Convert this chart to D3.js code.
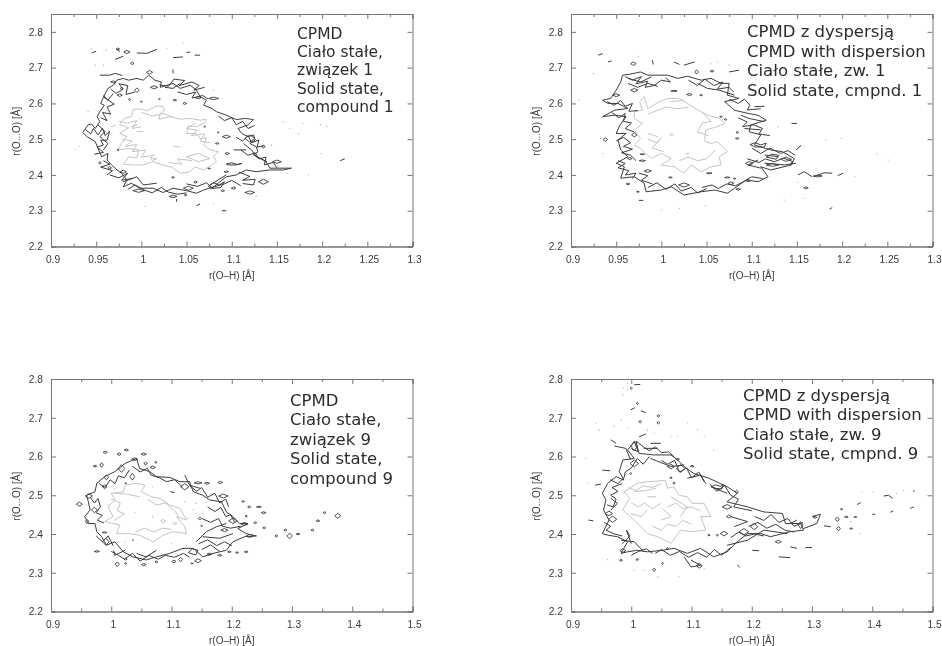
<!DOCTYPE html>
<html><head><meta charset="utf-8">
<script src="https://cdn.jsdelivr.net/npm/d3@7"></script>
<style>html,body{margin:0;background:#fff}svg{display:block}</style></head><body>
<svg id="c" width="942" height="646"></svg>
<script>
// ---------- axis ticks ----------
const xTicksTop=[0.9,0.95,1,1.05,1.1,1.15,1.2,1.25,1.3];
const xMinorTop=[0.925,0.975,1.025,1.075,1.125,1.175,1.225,1.275];
const xTicksBottom=[0.9,1,1.1,1.2,1.3,1.4,1.5];
const xMinorBottom=[0.95,1.05,1.15,1.25,1.35,1.45];
const yTicks=[2.2,2.3,2.4,2.5,2.6,2.7,2.8];
const xLabelText="r(O\u2013H) [\u00c5]";
const yLabelText="r(O...O) [\u00c5]";
// ---------- annotations ----------
const notesA=["CPMD","Ciało stałe,","związek 1","Solid state,","compound 1"];
const notesB=["CPMD z dyspersją","CPMD with dispersion","Ciało stałe, zw. 1","Solid state, cmpnd. 1"];
const notesC=["CPMD","Ciało stałe,","związek 9","Solid state,","compound 9"];
const notesD=["CPMD z dyspersją","CPMD with dispersion","Ciało stałe, zw. 9","Solid state, cmpnd. 9"];

// ---------- panel A: compound 1, CPMD ----------
const ringA=[[.935,2.519],[.941,2.540],[.945,2.542],[.949,2.530],[.954,2.549],[.951,2.563],[.954,2.577],[.959,2.595],[.955,2.600],[.960,2.628],[.963,2.642],[.969,2.651],[.973,2.665],[.980,2.670],[.986,2.665],[.995,2.670],[1.002,2.665],[1.008,2.679],[1.015,2.665],[1.022,2.660],[1.021,2.645],[1.035,2.656],[1.043,2.642],[1.054,2.651],[1.061,2.637],[1.065,2.619],[1.072,2.609],[1.069,2.595],[1.078,2.586],[1.083,2.577],[1.094,2.567],[1.105,2.555],[1.115,2.558],[1.124,2.555],[1.118,2.540],[1.107,2.530],[1.111,2.516],[1.118,2.507],[1.124,2.512],[1.126,2.498],[1.120,2.488],[1.127,2.479],[1.129,2.465],[1.124,2.456],[1.135,2.442],[1.139,2.433],[1.142,2.419],[1.166,2.419],[1.157,2.414],[1.142,2.414],[1.127,2.409],[1.116,2.414],[1.105,2.400],[1.094,2.395],[1.087,2.381],[1.080,2.367],[1.069,2.358],[1.061,2.349],[1.050,2.356],[1.035,2.363],[1.024,2.351],[1.013,2.363],[.998,2.363],[.989,2.377],[.980,2.367],[.984,2.386],[.978,2.405],[.973,2.414],[.967,2.428],[.962,2.442],[.963,2.460],[.956,2.451],[.952,2.474],[.949,2.493],[.940,2.507],[.935,2.519]];
const fragsA=[[[.945,2.741],[.950,2.746]],[[.973,2.753],[.976,2.744]],[[.995,2.741],[1.006,2.740],[1.017,2.751]],[[.971,2.723],[.980,2.732]],[[1.050,2.742],[1.054,2.744]],[[1.059,2.735],[1.065,2.735]],[[1.035,2.728],[1.046,2.730]],[[1.035,2.695],[1.035,2.684]],[[.954,2.679],[.965,2.679],[.971,2.684],[.979,2.678]],[[1.026,2.645],[1.035,2.642],[1.043,2.656]],[[.958,2.619],[.963,2.609],[.969,2.628]],[[1.061,2.314],[1.065,2.319]],[[1.089,2.300],[1.094,2.300]],[[1.039,2.333],[1.039,2.325]],[[1.220,2.440],[1.225,2.445]],[[.952,2.540],[.960,2.521],[.954,2.507],[.963,2.488],[.958,2.470]],[[1.113,2.488],[1.122,2.470],[1.127,2.451],[1.139,2.437]],[[1.102,2.470],[1.116,2.470]],[[1.076,2.372],[1.094,2.400]],[[.980,2.381],[.995,2.395],[1.002,2.372],[1.017,2.377]],
[[.938,2.527],[.944,2.515],[.947,2.530],[.952,2.512],[.957,2.530],[.960,2.510],[.965,2.523],[.962,2.497],[.955,2.497],[.958,2.484],[.951,2.478],[.958,2.463],[.948,2.458]],[[.955,2.560],[.962,2.552],[.957,2.575],[.966,2.570],[.962,2.590],[.970,2.598],[.963,2.610],[.958,2.622]],[[.966,2.640],[.972,2.628],[.980,2.640],[.975,2.655],[.985,2.650],[.983,2.625],[.993,2.632]],[[1.020,2.652],[1.030,2.648],[1.036,2.668],[1.048,2.664],[1.042,2.650],[1.056,2.660],[1.064,2.650],[1.058,2.637],[1.070,2.645]],[[1.040,2.632],[1.050,2.625],[1.060,2.632],[1.056,2.615],[1.068,2.622],[1.074,2.612]],[[1.085,2.565],[1.092,2.552],[1.100,2.560],[1.105,2.540],[1.112,2.550],[1.118,2.530],[1.125,2.538]],[[1.105,2.505],[1.112,2.495],[1.118,2.510],[1.122,2.490],[1.130,2.498],[1.128,2.478],[1.136,2.482]],[[1.110,2.470],[1.118,2.455],[1.126,2.462],[1.130,2.445],[1.138,2.450],[1.136,2.428],[1.146,2.435],[1.150,2.420]],[[1.108,2.408],[1.120,2.396],[1.112,2.385],[1.126,2.388],[1.124,2.372],[1.112,2.376]],[[1.050,2.375],[1.062,2.368],[1.072,2.378],[1.078,2.365],[1.092,2.375],[1.100,2.385],[1.110,2.370]],[[.985,2.360],[.993,2.372],[1.003,2.358],[1.012,2.350],[1.022,2.365],[1.030,2.352],[1.040,2.346],[1.050,2.350]],[[.965,2.400],[.975,2.392],[.985,2.405],[.978,2.385],[.990,2.390]],[[.958,2.440],[.965,2.430],[.955,2.422],[.968,2.412],[.962,2.400]],
[[1.094,2.431],[1.100,2.434],[1.106,2.429],[1.111,2.432],[1.104,2.428],[1.096,2.428],[1.094,2.431]],[[1.074,2.368],[1.080,2.378],[1.086,2.372],[1.092,2.381],[1.088,2.365],[1.078,2.362],[1.074,2.368]]];
const islandsA=[[.984,2.744,.007,.009],[.974,2.752,.004,.006],[.990,2.712,.004,.007],[1.009,2.687,.007,.011],[.995,2.637,.005,.013],[1.014,2.645,.008,.009],[.969,2.660,.006,.006],[.978,2.642,.003,.005],[.976,2.623,.006,.007],[.987,2.611,.003,.006],[1.080,2.614,.011,.007],[1.037,2.609,.004,.005],[1.048,2.600,.004,.006],[1.063,2.616,.006,.006],[1.094,2.507,.009,.009],[1.120,2.502,.011,.020],[1.135,2.479,.004,.007],[1.150,2.437,.010,.009],[1.094,2.409,.005,.005],[1.135,2.381,.011,.014],[1.120,2.351,.011,.009],[1.060,2.380,.004,.006],[1.052,2.363,.011,.011],[.997,2.356,.013,.009],[1.035,2.340,.009,.007],[1.049,2.344,.003,.004],[1.090,2.356,.004,.005],[1.102,2.363,.005,.006],[1.035,2.393,.003,.005],[.980,2.409,.007,.009],[.965,2.420,.004,.007],[.954,2.434,.003,.006],[.974,2.470,.002,.003],[1.095,2.460,.005,.006],[1.000,2.605,.002,.003],[1.020,2.612,.002,.003],[1.070,2.535,.002,.003],[1.085,2.519,.002,.003],[1.084,2.488,.004,.004],[1.075,2.418,.003,.003]];
const innerA=[[[.974,2.470],[.978,2.488],[.984,2.507],[.976,2.516],[.986,2.532],[.976,2.541],[.981,2.558],[.989,2.563],[.991,2.584],[1.000,2.584],[1.006,2.579],[1.017,2.593],[1.024,2.591],[1.026,2.581],[1.021,2.572],[1.019,2.556],[1.032,2.563],[1.043,2.556],[1.054,2.558],[1.065,2.553],[1.072,2.556],[1.069,2.544],[1.061,2.535],[1.052,2.537],[1.050,2.516],[1.061,2.516],[1.065,2.502],[1.072,2.504],[1.069,2.484],[1.076,2.470],[1.085,2.465],[1.080,2.453],[1.083,2.437],[1.078,2.428],[1.069,2.414],[1.059,2.423],[1.054,2.409],[1.043,2.405],[1.034,2.421],[1.024,2.428],[1.013,2.437],[1.002,2.428],[.991,2.428],[.980,2.430],[.986,2.451],[.995,2.447],[.997,2.470],[.986,2.474],[.974,2.470]],[[.966,2.535],[.972,2.540]],[[.989,2.535],[.996,2.540]],[[.995,2.521],[1.002,2.521]],[[1.035,2.479],[1.043,2.479]],[[1.050,2.451],[1.063,2.460],[1.076,2.446],[1.063,2.437],[1.050,2.451]],[[1.010,2.449],[1.017,2.445],[1.012,2.441],[1.010,2.449]],
[[.975,2.550],[.985,2.545],[.995,2.552],[.990,2.530],[1.000,2.535]],[[.978,2.500],[.990,2.495],[.982,2.480],[.995,2.485],[.990,2.465],[1.005,2.470],[1.000,2.450],[1.015,2.455]],[[1.030,2.435],[1.045,2.430],[1.040,2.445],[1.056,2.440]],[[1.060,2.545],[1.050,2.530],[1.062,2.525],[1.055,2.510],[1.070,2.515],[1.065,2.495],[1.076,2.490]],[[1.000,2.575],[1.012,2.565],[1.025,2.572],[1.035,2.560]]];
const dotsA=[[.927,2.472],[.931,2.481],[1.004,2.312],[.945,2.753],[.961,2.749],[1.046,2.769],[1.028,2.753],[.989,2.682],[.958,2.707],[.949,2.707],[.941,2.577],[1.080,2.637],[1.157,2.549],[1.164,2.530],[1.179,2.544],[1.198,2.540],[1.205,2.535],[1.174,2.516],[1.199,2.460],[1.185,2.400],[1.161,2.405],[1.144,2.484],[1.127,2.340],[1.080,2.321],[1.102,2.567],[.998,2.558]];

// ---------- panel B: compound 1, with dispersion ----------
const ringB=[[.935,2.609],[.944,2.614],[.950,2.637],[.955,2.660],[.957,2.679],[.966,2.682],[.977,2.688],[.985,2.679],[.996,2.679],[1.007,2.679],[1.018,2.670],[1.029,2.676],[1.044,2.665],[1.055,2.670],[1.066,2.656],[1.075,2.656],[1.073,2.623],[1.086,2.614],[1.070,2.605],[1.081,2.581],[1.096,2.572],[1.107,2.567],[1.116,2.553],[1.099,2.540],[1.097,2.521],[1.110,2.512],[1.103,2.484],[1.121,2.470],[1.134,2.465],[1.147,2.446],[1.144,2.428],[1.121,2.414],[1.110,2.423],[1.118,2.395],[1.107,2.381],[1.094,2.386],[1.081,2.363],[1.073,2.349],[1.059,2.358],[1.044,2.353],[1.025,2.344],[1.011,2.367],[1.000,2.358],[.983,2.353],[.981,2.377],[.970,2.395],[.955,2.391],[.959,2.423],[.950,2.433],[.963,2.451],[.955,2.470],[.952,2.498],[.961,2.516],[.950,2.516],[.954,2.539],[.961,2.563],[.948,2.567],[.935,2.563],[.948,2.581],[.963,2.586],[.952,2.600],[.941,2.600],[.935,2.609]];
const fragsB=[[[.930,2.735],[.935,2.739]],[[.941,2.716],[.945,2.719]],[[.990,2.721],[.991,2.709]],[[1.025,2.707],[1.037,2.716]],[[1.014,2.716],[1.020,2.709]],[[1.075,2.688],[1.086,2.693]],[[.963,2.670],[.977,2.660],[.989,2.674]],[[.963,2.656],[.974,2.645],[.985,2.656],[.996,2.648]],[[1.040,2.656],[1.051,2.642],[1.064,2.637],[1.081,2.623]],[[1.103,2.591],[1.114,2.592]],[[1.088,2.567],[1.097,2.558],[1.114,2.549]],[[1.144,2.544],[1.150,2.544]],[[1.149,2.470],[1.155,2.483]],[[1.151,2.400],[1.158,2.409],[1.167,2.395]],[[1.169,2.395],[1.180,2.406],[1.189,2.405]],[[1.195,2.398],[1.201,2.405]],[[1.186,2.304],[1.189,2.309]],[[.975,2.329],[.980,2.329]],[[1.107,2.442],[1.096,2.428],[1.110,2.419]],[[1.114,2.433],[1.136,2.428],[1.149,2.433]],[[1.114,2.456],[1.129,2.451]],[[1.092,2.530],[1.110,2.526]],
[[.940,2.605],[.948,2.595],[.955,2.608],[.960,2.592],[.968,2.600],[.964,2.578],[.974,2.580]],[[.945,2.575],[.953,2.560],[.960,2.572],[.958,2.550],[.967,2.545],[.960,2.530],[.970,2.520]],[[.950,2.495],[.958,2.505],[.966,2.490],[.958,2.480],[.968,2.472],[.956,2.462],[.966,2.455],[.972,2.440]],[[.952,2.440],[.960,2.432],[.952,2.420],[.964,2.412],[.960,2.400],[.972,2.405],[.968,2.390]],[[.960,2.675],[.968,2.665],[.978,2.675],[.972,2.655],[.985,2.662],[.982,2.645],[.992,2.650],[1.000,2.665],[1.010,2.660],[1.005,2.672]],[[1.030,2.665],[1.040,2.650],[1.048,2.668],[1.058,2.650],[1.068,2.660],[1.062,2.640],[1.075,2.645],[1.080,2.632]],[[1.075,2.612],[1.085,2.600],[1.092,2.612],[1.098,2.595],[1.095,2.582],[1.110,2.585]],[[1.085,2.560],[1.095,2.548],[1.090,2.535],[1.102,2.540],[1.112,2.530],[1.108,2.515],[1.120,2.510]],[[1.100,2.475],[1.110,2.460],[1.120,2.475],[1.132,2.460],[1.140,2.468],[1.148,2.455]],[[1.095,2.445],[1.108,2.435],[1.115,2.445],[1.125,2.437],[1.135,2.447],[1.145,2.438],[1.142,2.425]],[[1.045,2.365],[1.056,2.372],[1.063,2.362],[1.072,2.375],[1.082,2.370],[1.090,2.380],[1.100,2.395],[1.112,2.390]],[[.985,2.365],[.995,2.378],[1.005,2.360],[1.015,2.375],[1.022,2.355],[1.033,2.365],[1.040,2.350],[1.050,2.362]],[[.975,2.405],[.985,2.398],[.978,2.385],[.990,2.375]],
[[1.098,2.485],[1.104,2.490],[1.110,2.484],[1.116,2.489],[1.114,2.478],[1.104,2.478],[1.098,2.485]],[[1.116,2.450],[1.122,2.458],[1.130,2.455],[1.127,2.444],[1.116,2.450]]];
const islandsB=[[.938,2.499,.005,.011],[.969,2.711,.006,.010],[1.039,2.688,.004,.012],[1.056,2.690,.004,.005],[.970,2.637,.008,.010],[.950,2.623,.008,.008],[1.014,2.635,.007,.004],[1.031,2.625,.006,.006],[1.044,2.623,.003,.004],[1.071,2.555,.003,.004],[1.066,2.563,.003,.003],[1.084,2.519,.003,.005],[1.084,2.502,.004,.004],[1.138,2.444,.012,.012],[1.123,2.428,.014,.008],[1.097,2.432,.008,.012],[1.160,2.364,.005,.006],[1.173,2.397,.010,.005],[.985,2.411,.008,.008],[.979,2.440,.007,.004],[.979,2.458,.005,.003],[.970,2.512,.006,.012],[.965,2.446,.005,.006],[.963,2.375,.004,.005],[1.010,2.393,.004,.004],[1.053,2.405,.006,.003],[1.073,2.393,.006,.003],[1.081,2.390,.003,.003],[1.085,2.360,.005,.005],[1.077,2.377,.006,.008],[1.096,2.384,.006,.006],[1.025,2.372,.012,.012],[.974,2.353,.003,.003]];
const innerB=[[[.970,2.577],[.979,2.581],[.976,2.605],[.981,2.619],[.985,2.586],[.998,2.605],[1.007,2.614],[1.020,2.614],[1.029,2.600],[1.037,2.586],[1.051,2.567],[1.064,2.558],[1.070,2.544],[1.061,2.535],[1.049,2.525],[1.048,2.493],[1.055,2.488],[1.062,2.493],[1.073,2.465],[1.064,2.451],[1.066,2.428],[1.055,2.423],[1.044,2.409],[1.033,2.428],[1.025,2.405],[1.014,2.423],[1.000,2.428],[1.011,2.446],[1.000,2.460],[.989,2.446],[.977,2.474],[.970,2.484],[.977,2.502],[.970,2.525],[.979,2.544],[.970,2.558],[.970,2.577]],[[.985,2.516],[.996,2.507]],[[1.011,2.605],[1.025,2.609]],[[1.009,2.513],[1.011,2.516],[1.013,2.513],[1.011,2.510],[1.009,2.513]],[[1.027,2.460],[1.031,2.460]],
[[.985,2.570],[.995,2.580],[1.005,2.590],[1.018,2.585],[1.030,2.590]],[[.985,2.500],[.995,2.490],[1.000,2.505],[.990,2.475],[1.002,2.465]],[[1.045,2.575],[1.055,2.550],[1.045,2.545],[1.040,2.520],[1.052,2.510]],[[1.020,2.440],[1.030,2.450],[1.040,2.440],[1.050,2.445],[1.060,2.470]]];
const dotsB=[[.925,2.684],[.975,2.732],[1.055,2.711],[1.062,2.716],[1.075,2.707],[.909,2.609],[.933,2.502],[.935,2.460],[1.020,2.307],[1.000,2.302],[1.049,2.313],[1.136,2.330],[1.158,2.335],[1.251,2.442],[1.239,2.459],[1.199,2.502],[1.158,2.479],[1.129,2.535],[1.182,2.498],[1.151,2.379],[1.214,2.395]];

// ---------- panel C: compound 9, CPMD ----------
const ringC=[[.959,2.500],[.973,2.509],[.976,2.531],[.989,2.548],[1.006,2.561],[1.023,2.582],[1.042,2.595],[1.047,2.569],[1.064,2.561],[1.075,2.548],[1.097,2.546],[1.114,2.535],[1.130,2.535],[1.136,2.509],[1.152,2.500],[1.163,2.488],[1.183,2.483],[1.191,2.457],[1.202,2.445],[1.213,2.427],[1.227,2.427],[1.210,2.414],[1.224,2.401],[1.241,2.395],[1.221,2.393],[1.202,2.380],[1.191,2.358],[1.169,2.350],[1.152,2.341],[1.136,2.363],[1.119,2.363],[1.097,2.350],[1.075,2.341],[1.058,2.333],[1.036,2.341],[1.020,2.354],[1.006,2.380],[.992,2.371],[.984,2.393],[.976,2.406],[.973,2.427],[.962,2.427],[.956,2.445],[.965,2.462],[.962,2.483],[.959,2.500]];
const fragsC=[[[1.141,2.380],[1.158,2.406],[1.175,2.419],[1.191,2.427]],[[1.152,2.393],[1.180,2.389],[1.202,2.401]],[[1.098,2.509],[1.105,2.507]],[[1.004,2.358],[1.006,2.345],[1.023,2.358]],[[1.042,2.350],[1.058,2.341],[1.075,2.358]],[[1.122,2.552],[1.130,2.526],[1.147,2.518]],
[[.965,2.495],[.972,2.480],[.978,2.492],[.982,2.470],[.975,2.455],[.985,2.448],[.977,2.436],[.988,2.428]],[[.980,2.530],[.990,2.520],[.998,2.540],[1.006,2.530],[1.012,2.550],[1.022,2.545],[1.030,2.565]],[[1.035,2.575],[1.048,2.560],[1.060,2.570],[1.066,2.552],[1.080,2.545],[1.092,2.535],[1.105,2.540],[1.118,2.522]],[[1.130,2.525],[1.142,2.510],[1.150,2.520],[1.160,2.495],[1.172,2.505],[1.180,2.480],[1.190,2.490],[1.195,2.470]],[[1.160,2.470],[1.172,2.458],[1.182,2.468],[1.190,2.445],[1.198,2.450],[1.205,2.430]],[[1.150,2.440],[1.165,2.430],[1.178,2.440],[1.185,2.420],[1.198,2.415],[1.215,2.420]],[[1.145,2.375],[1.160,2.385],[1.175,2.370],[1.188,2.380],[1.200,2.370]],[[1.150,2.360],[1.165,2.372],[1.180,2.355]],[[1.000,2.355],[1.012,2.345],[1.022,2.335],[1.035,2.350],[1.048,2.330],[1.062,2.345],[1.078,2.335],[1.090,2.345],[1.105,2.340],[1.120,2.350],[1.130,2.340]],[[.975,2.395],[.985,2.380],[.995,2.395],[1.003,2.370]],
[[1.128,2.352],[1.134,2.362],[1.144,2.358],[1.140,2.346],[1.128,2.352]]];
const islandsC=[[.947,2.477,.010,.011],[.973,2.575,.006,.005],[.984,2.578,.006,.012],[.990,2.611,.007,.006],[1.013,2.606,.007,.007],[1.025,2.617,.007,.005],[1.054,2.606,.009,.006],[1.039,2.593,.010,.007],[1.057,2.582,.006,.006],[1.074,2.585,.004,.005],[1.069,2.572,.009,.007],[1.035,2.548,.008,.018],[1.017,2.569,.011,.020],[.992,2.546,.008,.012],[.989,2.522,.008,.010],[1.144,2.532,.013,.006],[1.159,2.531,.008,.005],[1.181,2.533,.008,.006],[1.122,2.522,.014,.016],[1.186,2.498,.016,.010],[1.219,2.484,.005,.004],[1.229,2.470,.005,.005],[1.245,2.470,.008,.004],[1.253,2.455,.008,.005],[1.224,2.446,.004,.005],[1.239,2.429,.005,.005],[1.254,2.416,.005,.005],[1.274,2.395,.005,.005],[1.289,2.410,.005,.005],[1.296,2.395,.009,.015],[1.310,2.400,.006,.004],[1.334,2.410,.005,.005],[1.343,2.434,.006,.005],[1.354,2.455,.005,.005],[1.376,2.447,.010,.013],[.976,2.355,.009,.004],[.991,2.380,.011,.018],[1.010,2.322,.007,.012],[1.024,2.335,.005,.005],[1.024,2.324,.004,.004],[1.054,2.321,.008,.006],[1.075,2.328,.005,.005],[1.104,2.329,.007,.007],[1.115,2.334,.007,.012],[1.134,2.324,.004,.003],[1.144,2.331,.011,.010],[1.180,2.345,.007,.005],[1.196,2.354,.006,.004],[1.209,2.352,.005,.004],[1.224,2.354,.006,.004],[1.163,2.348,.008,.006],[1.221,2.426,.012,.008],[1.202,2.434,.014,.014],[1.188,2.410,.012,.008],[1.230,2.395,.012,.008],[1.147,2.440,.005,.008],[.989,2.404,.008,.003],[.960,2.432,.007,.010],[.963,2.498,.012,.012],[.972,2.462,.010,.014],[1.024,2.531,.003,.003],[1.036,2.384,.002,.003],[1.150,2.421,.003,.003]];
const innerC=[[[.989,2.432],[1.003,2.445],[.995,2.470],[1.006,2.488],[1.000,2.505],[1.020,2.509],[1.023,2.526],[1.042,2.531],[1.056,2.526],[1.050,2.509],[1.067,2.496],[1.081,2.492],[1.097,2.475],[1.114,2.466],[1.125,2.436],[1.108,2.445],[1.122,2.419],[1.125,2.401],[1.103,2.406],[1.086,2.397],[1.069,2.380],[1.047,2.397],[1.028,2.401],[1.009,2.401],[1.014,2.423],[.989,2.432]],[[1.006,2.505],[1.025,2.503],[1.047,2.496]],[[1.082,2.433],[1.086,2.438],[1.090,2.433],[1.086,2.428],[1.082,2.433]],[[1.102,2.427],[1.105,2.430],[1.109,2.427],[1.105,2.424],[1.102,2.427]],[[1.069,2.448],[1.069,2.442]],
[[1.000,2.490],[1.015,2.480],[1.010,2.460],[1.022,2.452],[1.005,2.435]],[[1.060,2.490],[1.075,2.475],[1.090,2.480],[1.105,2.460],[1.112,2.445]],[[1.040,2.405],[1.055,2.415],[1.070,2.405],[1.085,2.415],[1.100,2.412]]];
const dotsC=[[1.006,2.531],[1.006,2.518],[.995,2.475],[1.069,2.522],[1.141,2.479],[1.136,2.462],[1.127,2.440],[1.158,2.436],[1.125,2.371],[1.100,2.376],[1.039,2.455],[1.023,2.380],[1.122,2.483],[1.152,2.453]];

// ---------- panel D: compound 9, with dispersion ----------
const ringD=[[.952,2.401],[.963,2.436],[.954,2.462],[.958,2.488],[.952,2.505],[.961,2.531],[.975,2.548],[.988,2.539],[.980,2.561],[.986,2.591],[1.005,2.595],[.994,2.617],[1.005,2.638],[1.013,2.608],[1.038,2.604],[1.066,2.604],[1.077,2.591],[1.088,2.574],[1.104,2.556],[1.129,2.544],[1.159,2.522],[1.176,2.505],[1.159,2.483],[1.193,2.470],[1.220,2.457],[1.251,2.453],[1.256,2.427],[1.281,2.427],[1.286,2.410],[1.264,2.406],[1.231,2.393],[1.215,2.401],[1.193,2.401],[1.176,2.380],[1.159,2.354],[1.137,2.341],[1.115,2.363],[1.093,2.350],[1.071,2.363],[1.052,2.358],[1.027,2.354],[1.010,2.358],[.994,2.354],[.983,2.350],[.994,2.380],[.977,2.393],[.961,2.397],[.952,2.401]];
const fragsD=[[[1.088,2.341],[1.099,2.315],[1.115,2.319],[1.099,2.333]],[[1.176,2.320],[1.180,2.314]],[[.940,2.526],[.950,2.529]],[[.929,2.436],[.937,2.434]],[[.952,2.565],[.965,2.563]],[[1.005,2.785],[1.015,2.786]],[[.999,2.720],[1.006,2.726]],[[1.016,2.718],[1.024,2.713]],[[1.013,2.651],[1.024,2.658]],[[.966,2.643],[.975,2.634]],[[.972,2.627],[.991,2.621],[.999,2.591]],[[1.032,2.634],[1.049,2.634]],[[1.021,2.621],[1.044,2.621]],[[1.201,2.358],[1.212,2.357]],[[1.245,2.341],[1.264,2.339]],[[1.289,2.365],[1.300,2.365]],[[1.264,2.367],[1.275,2.363]],[[1.375,2.476],[1.381,2.481]],[[1.419,2.498],[1.427,2.500],[1.434,2.492]],[[1.430,2.456],[1.435,2.460]],[[1.463,2.466],[1.469,2.470]],[[1.400,2.451],[1.405,2.451]],[[1.469,2.513],[1.469,2.509]],[[1.300,2.445],[1.314,2.451],[1.308,2.427],[1.286,2.414]],[[1.320,2.421],[1.331,2.419]],[[1.264,2.427],[1.275,2.436]],[[1.132,2.522],[1.159,2.505]],[[1.093,2.544],[1.115,2.552],[1.121,2.535]],[[1.032,2.595],[1.066,2.574],[1.088,2.578]],[[.966,2.492],[.977,2.479],[.966,2.462]],[[.983,2.384],[1.005,2.380],[1.021,2.354]],[[1.159,2.371],[1.193,2.384],[1.220,2.410],[1.259,2.401]],[[1.165,2.445],[1.193,2.432],[1.171,2.419]],
[[.955,2.430],[.966,2.420],[.958,2.410],[.972,2.400],[.985,2.395]],[[.960,2.475],[.970,2.470],[.975,2.490],[.966,2.500],[.978,2.510],[.968,2.520],[.985,2.530]],[[.965,2.540],[.978,2.530],[.988,2.545],[.990,2.560],[1.000,2.570],[1.010,2.595],[1.020,2.580],[1.030,2.600]],[[1.000,2.620],[1.012,2.612],[1.008,2.640],[1.020,2.625],[1.030,2.615],[1.040,2.625],[1.050,2.610],[1.062,2.612],[1.072,2.598]],[[1.050,2.590],[1.060,2.580],[1.072,2.590],[1.080,2.560],[1.092,2.570],[1.100,2.545],[1.112,2.560],[1.124,2.530]],[[1.130,2.530],[1.142,2.510],[1.155,2.525],[1.165,2.500],[1.178,2.490],[1.170,2.470],[1.185,2.465],[1.200,2.460]],[[1.205,2.445],[1.220,2.435],[1.232,2.450],[1.245,2.430],[1.260,2.440],[1.270,2.420],[1.285,2.430]],[[1.195,2.420],[1.210,2.430],[1.225,2.415],[1.240,2.425],[1.255,2.410],[1.270,2.405]],[[1.165,2.390],[1.178,2.405],[1.190,2.395],[1.205,2.400],[1.220,2.395]],[[1.165,2.365],[1.150,2.345],[1.138,2.360],[1.125,2.340],[1.110,2.352],[1.095,2.340],[1.080,2.355],[1.065,2.345],[1.050,2.360],[1.040,2.350]],[[1.000,2.345],[1.012,2.355],[1.025,2.362],[1.035,2.350]],[[.985,2.375],[.998,2.395],[.992,2.410],[1.000,2.375]],
[[1.133,2.522],[1.140,2.527],[1.148,2.523],[1.153,2.528],[1.150,2.516],[1.140,2.518],[1.133,2.522]]];
const islandsD=[[1.000,2.776,.004,.006],[1.010,2.737,.004,.005],[1.045,2.705,.005,.006],[1.015,2.690,.005,.006],[1.045,2.687,.005,.006],[1.005,2.627,.011,.025],[.969,2.438,.014,.016],[.963,2.453,.012,.012],[1.005,2.582,.014,.018],[1.066,2.574,.012,.012],[1.082,2.569,.014,.020],[1.077,2.593,.006,.005],[1.101,2.575,.006,.004],[1.066,2.545,.004,.004],[1.071,2.531,.004,.006],[.999,2.556,.004,.005],[1.175,2.509,.006,.008],[1.159,2.470,.016,.012],[1.162,2.445,.008,.008],[1.154,2.401,.012,.012],[1.187,2.406,.016,.016],[1.204,2.419,.012,.016],[1.244,2.380,.010,.008],[1.281,2.423,.008,.018],[1.305,2.443,.006,.005],[1.342,2.438,.007,.012],[1.357,2.444,.006,.004],[1.349,2.464,.004,.004],[1.344,2.414,.006,.012],[1.365,2.414,.005,.004],[1.372,2.444,.005,.003],[1.038,2.308,.006,.008],[.983,2.332,.005,.005],[1.010,2.334,.005,.004],[1.052,2.324,.003,.006],[1.113,2.318,.010,.012],[1.060,2.363,.004,.004],[.986,2.357,.010,.010],[1.129,2.397,.004,.004],[1.143,2.397,.003,.006]];
const innerD=[[[.988,2.509],[1.010,2.531],[1.027,2.535],[1.057,2.538],[1.060,2.518],[1.071,2.522],[1.079,2.500],[1.093,2.496],[1.101,2.479],[1.121,2.479],[1.132,2.445],[1.115,2.445],[1.124,2.410],[1.099,2.406],[1.082,2.410],[1.066,2.376],[1.044,2.393],[1.027,2.401],[1.013,2.423],[1.005,2.436],[.986,2.462],[.997,2.492],[.988,2.509]],[[1.005,2.509],[1.027,2.513],[1.041,2.518]],[[.999,2.453],[1.016,2.445],[1.027,2.462]],[[1.052,2.466],[1.066,2.445],[1.049,2.436]],[[1.027,2.496],[1.041,2.496]],[[1.066,2.496],[1.093,2.470],[1.082,2.445]],
[[.995,2.520],[1.008,2.512],[1.020,2.525],[1.035,2.520],[1.050,2.530]],[[1.000,2.480],[1.012,2.470],[1.022,2.480],[1.035,2.465],[1.050,2.480]],[[1.060,2.470],[1.075,2.480],[1.085,2.465],[1.100,2.470],[1.115,2.460]],[[1.035,2.420],[1.050,2.410],[1.060,2.425],[1.075,2.420],[1.085,2.435],[1.100,2.425]]];
const dotsD=[[.986,2.759],[.987,2.776],[.994,2.772],[.994,2.789],[.941,2.686],[.947,2.668],[.971,2.679],[.983,2.694],[.994,2.673],[1.027,2.668],[1.038,2.660],[1.066,2.651],[1.077,2.651],[1.093,2.687],[1.110,2.668],[1.121,2.651],[1.137,2.617],[.925,2.595],[.929,2.531],[1.021,2.307],[1.044,2.290],[1.079,2.290],[1.005,2.307],[1.121,2.311],[.961,2.334],[1.383,2.509],[1.402,2.509],[1.441,2.505],[1.452,2.513],[1.380,2.401],[1.364,2.432]];

const svg=d3.select("#c");
const axisCol="#777",textCol="#3a3a3a",darkCol="#3c3c3c",greyCol="#c4c4c4";
const defs=svg.append("defs");
defs.append("filter").attr("id","soft").append("feGaussianBlur").attr("stdDeviation",0.3);

const panels=[
 {l:51,t:14,xMax:1.3,yMax:2.85,xT:xTicksTop,xM:xMinorTop,ring:ringA,frags:fragsA,isl:islandsA,inner:innerA,dots:dotsA,notes:notesA,nx:297,ny:33,nd:18.4,nf:15.5},
 {l:571,t:14,xMax:1.3,yMax:2.85,xT:xTicksTop,xM:xMinorTop,ring:ringB,frags:fragsB,isl:islandsB,inner:innerB,dots:dotsB,notes:notesB,nx:747,ny:31,nd:19.6,nf:16.5},
 {l:51,t:379,xMax:1.5,yMax:2.8,xT:xTicksBottom,xM:xMinorBottom,ring:ringC,frags:fragsC,isl:islandsC,inner:innerC,dots:dotsC,notes:notesC,nx:290,ny:400,nd:19.5,nf:16.5},
 {l:571,t:379,xMax:1.5,yMax:2.8,xT:xTicksBottom,xM:xMinorBottom,ring:ringD,frags:fragsD,isl:islandsD,inner:innerD,dots:dotsD,notes:notesD,nx:743,ny:395,nd:19.5,nf:16.5}
];
const W=361.5,H=232.5;
const fmt=d=>String(+d.toFixed(2));
panels.forEach(p=>{
 const g=svg.append("g").attr("transform",`translate(${p.l},${p.t})`).attr("filter","url(#soft)");
 const x=d3.scaleLinear().domain([0.9,p.xMax]).range([0,W]);
 const y=d3.scaleLinear().domain([2.2,p.yMax]).range([H,0]);
 const line=d3.line().x(d=>x(d[0])).y(d=>y(d[1]));
 const diamond=d=>line([[d[0]-d[2]/2,d[1]],[d[0],d[1]+d[3]/2],[d[0]+d[2]/2,d[1]],[d[0],d[1]-d[3]/2],[d[0]-d[2]/2,d[1]]]);
 g.append("g").selectAll("path").data(p.inner).join("path").attr("d",line).attr("fill","none").attr("stroke",greyCol).attr("stroke-width",1);
 g.append("g").selectAll("circle").data(p.dots).join("circle").attr("cx",d=>x(d[0])).attr("cy",d=>y(d[1])).attr("r",0.55).attr("fill","#9a9a9a");
 g.append("path").attr("d",line(p.ring)).attr("fill","none").attr("stroke",darkCol).attr("stroke-width",1);
 g.append("g").selectAll("path").data(p.frags).join("path").attr("d",line).attr("fill","none").attr("stroke",darkCol).attr("stroke-width",1);
 g.append("g").selectAll("path").data(p.isl).join("path").attr("d",diamond).attr("fill","none").attr("stroke",darkCol).attr("stroke-width",0.9);
 const tickAll=(axis,sel)=>sel.call(axis).call(s=>s.select(".domain").attr("stroke",axisCol).attr("stroke-width",1)).call(s=>s.selectAll("line").attr("stroke",axisCol));
 const lab=s=>s.selectAll("text").attr("fill",textCol).attr("font-family","'Liberation Sans',Arial,sans-serif").attr("font-size",10.2);
 const ax=tickAll(d3.axisBottom(x).tickValues(p.xT).tickSize(-5).tickPadding(9).tickFormat(fmt),g.append("g").attr("transform",`translate(0,${H})`));
 ax.call(lab); ax.selectAll("text").attr("dx",1.5);
 tickAll(d3.axisBottom(x).tickValues(p.xM).tickSize(-3).tickFormat(""),g.append("g").attr("transform",`translate(0,${H})`));
 tickAll(d3.axisTop(x).tickValues(p.xT).tickSize(-5).tickFormat(""),g.append("g"));
 tickAll(d3.axisTop(x).tickValues(p.xM).tickSize(-3).tickFormat(""),g.append("g"));
 const ay=tickAll(d3.axisLeft(y).tickValues(yTicks).tickSize(-5).tickPadding(8).tickFormat(d3.format(".1f")),g.append("g"));
 ay.call(lab);
 tickAll(d3.axisRight(y).tickValues(yTicks).tickSize(-5).tickFormat(""),g.append("g").attr("transform",`translate(${W},0)`));
 g.append("text").attr("x",W/2).attr("y",H+32.5).attr("text-anchor","middle").attr("fill",textCol).attr("font-family","'Liberation Sans',Arial,sans-serif").attr("font-size",10).text(xLabelText);
 g.append("text").attr("transform",`translate(-31.5,${H/2+1}) rotate(-90)`).attr("text-anchor","middle").attr("fill",textCol).attr("font-family","'Liberation Sans',Arial,sans-serif").attr("font-size",10).text(yLabelText);
 svg.append("g").selectAll("text").data(p.notes).join("text").attr("x",p.nx).attr("y",(d,i)=>p.ny+i*p.nd).attr("dy","0.36em")
  .attr("fill","#2c2c2c").attr("font-family","'DejaVu Sans',sans-serif").attr("font-size",p.nf).text(d=>d);
});
</script></body></html>
